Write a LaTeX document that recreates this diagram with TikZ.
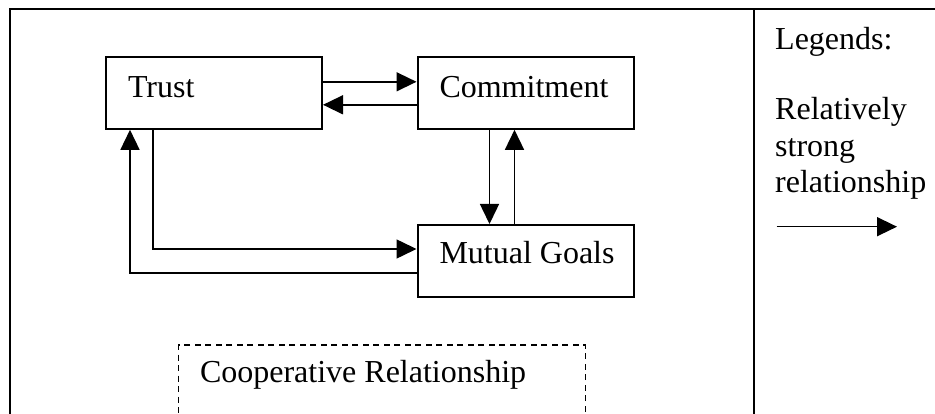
\documentclass[tikz,border=0pt]{standalone}
\usepackage{fontspec}
\setmainfont{Liberation Serif}
\usetikzlibrary{arrows.meta}

\tikzset{
  box/.style={draw, line width=2pt, text width=194pt, inner xsep=11pt,
    inner ysep=0pt, align=left, text height=40.5pt, text depth=31.5pt,
    execute at begin node={\spaceskip=0pt\xspaceskip=0pt\hspace*{11pt}}},
  link/.style={line width=1.5pt, -{Triangle[length=20pt,width=19pt]}},
  frame/.style={line width=2pt},
  coopbox/.style={draw, dashed, dash pattern=on 6pt off 4.5pt, line width=1.6pt,
    text width=364pt, inner xsep=21.5pt, inner ysep=0pt, align=left,
    text height=37.5pt, text depth=52.5pt,
    execute at begin node={\spaceskip=0pt\xspaceskip=0pt}},
  plain/.style={inner sep=0pt}
}

\begin{document}
\begin{tikzpicture}[x=1pt, y=-1pt, font=\fontsize{32}{36.5}\selectfont]
  \clip (0,0) rectangle (935,414);
  \useasboundingbox (0,0) rectangle (935,414);

  % outer frame and legend divider
  \draw[frame] (10,440) -- (10,9) -- (950,9);
  \draw[frame] (754,9) -- (754,440);

  % concept boxes
  \node[box] (trust)  at (214,92.8)  {Trust};
  \node[box] (commit) at (525.5,92.8) {Commitment};
  \node[box, text height=39pt, text depth=33pt] (goals) at (525.5,261) {Mutual Goals};

  % dashed area
  \node[coopbox, anchor=north west] (coop) at (177.7,344.3) {Cooperative Relationship};

  % links between the concepts
  \draw[link] ([yshift=11pt]trust.east) -- ([yshift=11pt]commit.west);
  \draw[link] ([yshift=-12pt]commit.west) -- ([yshift=-12pt]trust.east);
  \draw[link] ([xshift=-36pt]commit.south) -- ([xshift=-36pt]goals.north);
  \draw[link] ([xshift=-11pt]goals.north) -- ([xshift=-11pt]commit.south);
  \draw[link] ([xshift=-61pt]trust.south) |- ([yshift=12pt]goals.west);
  \draw[link] ([yshift=-12pt]goals.west) -| ([xshift=-84pt]trust.south);

  % legend
  \node[plain, anchor=base west] (legtitle) at (775,50) {Legends:};
  \node[plain, anchor=base west] (leg1) at (775,120) {Relatively};
  \node[plain, anchor=base west] (leg2) at (775,157) {strong};
  \node[plain, anchor=base west] (leg3) at (775,193) {relationship};
  \coordinate (legA) at (776.7,226.7);
  \coordinate (legB) at (897,226.7);
  \draw[link] (legA) -- (legB);
\end{tikzpicture}
\end{document}
